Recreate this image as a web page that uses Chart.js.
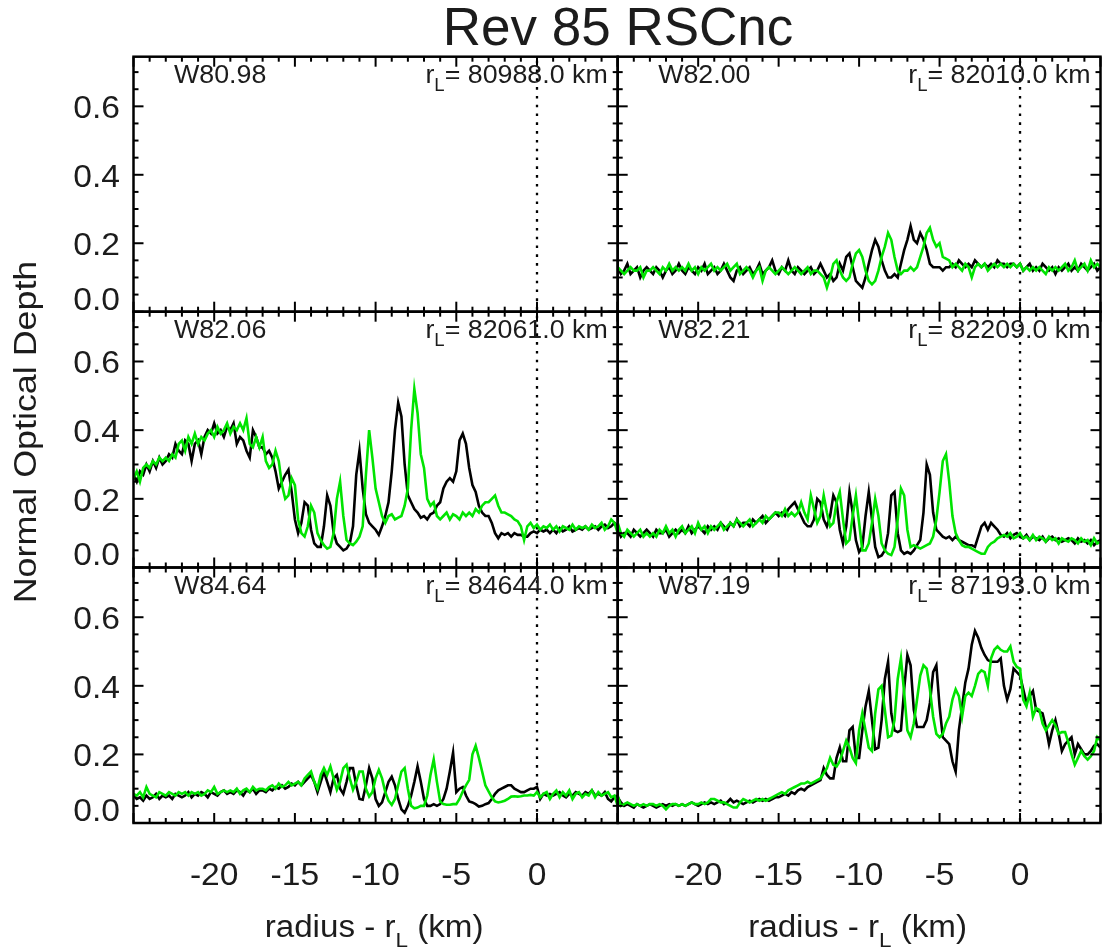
<!DOCTYPE html>
<html><head><meta charset="utf-8">
<script src="https://cdn.jsdelivr.net/npm/chart.js@4.4.1/dist/chart.umd.min.js"></script>
<style>
html,body{margin:0;padding:0;background:#fff;}
#wrap{position:relative;width:1102px;height:949px;overflow:hidden;background:#fff;}
#wrap canvas{position:absolute;left:0;top:0;}
</style></head><body><div id="wrap"></div>
<script>
// ---------- data ----------
const RADIUS_START = -25, RADIUS_STEP = 0.2;   // sampling grid of every series (km)
const X_MIN = -25, X_MAX = 5, Y_MIN = 0, Y_MAX = 0.745;
const X_TICK_LABELS = [-20, -15, -10, -5, 0];
const Y_TICK_LABELS = [0.0, 0.2, 0.4, 0.6];
const TITLE = 'Rev 85 RSCnc';
const PANEL_NAMES = ['W80.98', 'W82.00', 'W82.06', 'W82.21', 'W84.64', 'W87.19'];
const PANEL_RL = ['80988.0', '82010.0', '82061.0', '82209.0', '84644.0', '87193.0'];

const BLACK_W8200 = [
0.13,0.11,0.12,0.14,0.11,0.12,0.13,0.10,0.12,0.13,
0.12,0.11,0.13,0.12,0.10,0.12,0.13,0.11,0.12,0.14,
0.12,0.11,0.13,0.12,0.11,0.13,0.12,0.14,0.11,0.12,
0.13,0.11,0.12,0.14,0.12,0.10,0.09,0.12,0.13,0.11,
0.12,0.13,0.11,0.12,0.14,0.11,0.12,0.13,0.15,0.12,
0.11,0.13,0.12,0.15,0.12,0.11,0.13,0.12,0.11,0.12,
0.13,0.11,0.12,0.14,0.12,0.10,0.11,0.09,0.10,0.14,
0.12,0.16,0.17,0.13,0.09,0.08,0.07,0.10,0.14,0.18,
0.21,0.19,0.15,0.12,0.10,0.10,0.11,0.10,0.14,0.18,
0.21,0.25,0.21,0.20,0.23,0.21,0.18,0.14,0.13,0.13,
0.13,0.12,0.13,0.13,0.14,0.13,0.15,0.14,0.13,0.14,
0.13,0.15,0.14,0.13,0.14,0.13,0.14,0.13,0.15,0.14,
0.14,0.13,0.14,0.14,0.13,0.14,0.12,0.13,0.14,0.12,
0.13,0.12,0.14,0.13,0.12,0.13,0.11,0.13,0.12,0.13,
0.14,0.12,0.13,0.12,0.14,0.13,0.12,0.13,0.14,0.12,
0.13];
const GREEN_W8200 = [
0.13,0.12,0.11,0.12,0.13,0.12,0.12,0.13,0.10,0.12,
0.12,0.13,0.12,0.11,0.13,0.12,0.14,0.12,0.13,0.12,
0.13,0.12,0.14,0.12,0.13,0.11,0.13,0.12,0.13,0.14,
0.12,0.13,0.12,0.13,0.14,0.12,0.13,0.14,0.11,0.12,
0.13,0.12,0.10,0.12,0.13,0.09,0.12,0.13,0.12,0.11,
0.12,0.13,0.12,0.11,0.12,0.13,0.12,0.11,0.12,0.13,
0.11,0.12,0.12,0.11,0.10,0.07,0.10,0.14,0.15,0.12,
0.10,0.09,0.10,0.14,0.17,0.18,0.16,0.12,0.09,0.08,
0.09,0.12,0.16,0.19,0.23,0.21,0.16,0.12,0.11,0.12,
0.12,0.13,0.12,0.13,0.16,0.19,0.23,0.245,0.21,0.19,
0.20,0.16,0.155,0.15,0.13,0.14,0.13,0.12,0.14,0.13,
0.10,0.13,0.14,0.13,0.14,0.12,0.13,0.14,0.13,0.14,
0.13,0.14,0.13,0.14,0.13,0.14,0.12,0.13,0.12,0.13,
0.12,0.13,0.12,0.11,0.13,0.12,0.13,0.12,0.13,0.14,
0.12,0.13,0.15,0.12,0.13,0.14,0.12,0.15,0.13,0.14,
0.13];
const BLACK_W8206 = [
0.27,0.25,0.28,0.27,0.30,0.28,0.31,0.29,0.32,0.30,
0.31,0.33,0.32,0.36,0.34,0.33,0.37,0.36,0.31,0.36,
0.37,0.33,0.38,0.40,0.39,0.42,0.39,0.40,0.38,0.41,
0.40,0.42,0.36,0.38,0.37,0.34,0.32,0.40,0.38,0.35,
0.35,0.33,0.34,0.32,0.28,0.23,0.25,0.27,0.285,0.22,
0.14,0.10,0.13,0.19,0.18,0.11,0.07,0.06,0.06,0.12,
0.21,0.18,0.10,0.07,0.06,0.05,0.055,0.07,0.12,0.27,
0.34,0.23,0.155,0.13,0.12,0.11,0.095,0.12,0.15,0.19,
0.28,0.40,0.48,0.44,0.30,0.21,0.19,0.17,0.16,0.145,
0.15,0.14,0.155,0.16,0.18,0.19,0.23,0.25,0.26,0.25,
0.28,0.37,0.39,0.36,0.29,0.24,0.22,0.18,0.16,0.15,
0.15,0.13,0.10,0.085,0.10,0.095,0.10,0.09,0.10,0.095,
0.095,0.09,0.09,0.10,0.105,0.10,0.11,0.105,0.11,0.10,
0.11,0.10,0.115,0.105,0.11,0.12,0.105,0.11,0.115,0.11,
0.12,0.11,0.115,0.12,0.11,0.12,0.125,0.115,0.12,0.13,
0.12];
const GREEN_W8206 = [
0.26,0.28,0.25,0.29,0.30,0.29,0.31,0.30,0.32,0.31,
0.32,0.31,0.33,0.32,0.36,0.37,0.34,0.38,0.36,0.39,
0.36,0.38,0.37,0.39,0.40,0.38,0.41,0.39,0.40,0.42,
0.39,0.41,0.40,0.42,0.40,0.435,0.36,0.35,0.38,0.35,
0.38,0.31,0.29,0.30,0.34,0.31,0.24,0.20,0.21,0.26,
0.24,0.14,0.10,0.09,0.12,0.18,0.16,0.10,0.08,0.065,
0.055,0.06,0.10,0.20,0.25,0.15,0.08,0.07,0.065,0.075,
0.09,0.12,0.27,0.40,0.32,0.23,0.19,0.15,0.13,0.15,
0.155,0.14,0.145,0.15,0.18,0.23,0.40,0.52,0.45,0.33,
0.29,0.20,0.18,0.19,0.15,0.14,0.15,0.16,0.14,0.155,
0.15,0.14,0.16,0.15,0.16,0.15,0.17,0.16,0.18,0.19,
0.19,0.20,0.21,0.18,0.16,0.16,0.155,0.15,0.14,0.135,
0.12,0.08,0.12,0.13,0.115,0.125,0.11,0.12,0.115,0.125,
0.11,0.12,0.105,0.12,0.115,0.11,0.125,0.11,0.12,0.115,
0.12,0.11,0.125,0.115,0.12,0.13,0.11,0.12,0.14,0.13,
0.10];
const BLACK_W8221 = [
0.11,0.09,0.10,0.10,0.09,0.11,0.10,0.09,0.10,0.11,
0.10,0.09,0.11,0.10,0.10,0.11,0.09,0.10,0.11,0.10,
0.11,0.10,0.12,0.10,0.11,0.12,0.11,0.10,0.12,0.11,
0.12,0.11,0.13,0.12,0.11,0.13,0.12,0.14,0.12,0.13,
0.13,0.12,0.14,0.13,0.14,0.15,0.13,0.14,0.15,0.16,
0.15,0.16,0.15,0.17,0.18,0.19,0.17,0.15,0.13,0.12,
0.12,0.14,0.20,0.19,0.14,0.12,0.15,0.21,0.19,0.11,
0.07,0.12,0.22,0.16,0.08,0.045,0.06,0.15,0.22,0.14,
0.06,0.03,0.035,0.05,0.10,0.21,0.22,0.10,0.05,0.04,
0.045,0.04,0.05,0.065,0.08,0.16,0.30,0.27,0.16,0.11,
0.10,0.09,0.085,0.09,0.08,0.09,0.08,0.075,0.07,0.065,
0.065,0.06,0.09,0.12,0.13,0.11,0.13,0.12,0.11,0.095,
0.09,0.10,0.085,0.095,0.10,0.09,0.085,0.095,0.08,0.09,
0.085,0.08,0.09,0.075,0.085,0.09,0.08,0.085,0.075,0.08,
0.085,0.08,0.07,0.085,0.075,0.08,0.07,0.08,0.065,0.075,
0.08];
const GREEN_W8221 = [
0.13,0.10,0.09,0.11,0.10,0.09,0.10,0.11,0.09,0.10,
0.09,0.10,0.09,0.11,0.10,0.12,0.10,0.11,0.09,0.11,
0.12,0.10,0.11,0.12,0.10,0.13,0.11,0.12,0.10,0.12,
0.11,0.12,0.13,0.11,0.12,0.13,0.12,0.14,0.13,0.12,
0.13,0.14,0.12,0.13,0.14,0.13,0.15,0.14,0.15,0.16,
0.16,0.15,0.17,0.15,0.16,0.15,0.16,0.19,0.16,0.14,
0.21,0.17,0.13,0.15,0.21,0.16,0.12,0.13,0.19,0.22,
0.14,0.07,0.08,0.15,0.21,0.13,0.05,0.05,0.07,0.13,
0.20,0.15,0.07,0.05,0.04,0.036,0.06,0.14,0.23,0.21,
0.11,0.06,0.065,0.06,0.055,0.06,0.065,0.07,0.09,0.14,
0.22,0.31,0.33,0.25,0.15,0.10,0.08,0.065,0.06,0.06,
0.055,0.05,0.045,0.04,0.04,0.06,0.07,0.075,0.085,0.09,
0.095,0.09,0.10,0.085,0.09,0.10,0.085,0.09,0.08,0.095,
0.08,0.09,0.085,0.075,0.09,0.08,0.085,0.07,0.085,0.08,
0.075,0.085,0.08,0.07,0.085,0.075,0.08,0.065,0.085,0.07,
0.075];
const BLACK_W8464 = [
0.08,0.07,0.075,0.065,0.08,0.07,0.075,0.085,0.07,0.08,
0.075,0.08,0.07,0.085,0.08,0.075,0.08,0.09,0.075,0.085,
0.08,0.09,0.085,0.075,0.09,0.085,0.08,0.09,0.095,0.085,
0.09,0.085,0.095,0.09,0.08,0.095,0.09,0.10,0.085,0.095,
0.095,0.09,0.10,0.095,0.105,0.10,0.11,0.10,0.105,0.115,
0.11,0.12,0.11,0.12,0.13,0.14,0.12,0.09,0.12,0.15,
0.12,0.09,0.13,0.14,0.10,0.085,0.12,0.16,0.16,0.11,
0.07,0.068,0.11,0.16,0.13,0.07,0.05,0.06,0.09,0.12,
0.135,0.11,0.07,0.04,0.03,0.05,0.08,0.12,0.165,0.12,
0.07,0.05,0.05,0.055,0.05,0.055,0.07,0.10,0.15,0.205,
0.09,0.10,0.105,0.08,0.063,0.06,0.055,0.048,0.05,0.055,
0.058,0.07,0.085,0.095,0.10,0.105,0.11,0.11,0.10,0.095,
0.09,0.09,0.095,0.10,0.10,0.105,0.07,0.085,0.08,0.085,
0.08,0.085,0.09,0.08,0.075,0.085,0.08,0.09,0.085,0.08,
0.09,0.085,0.095,0.08,0.085,0.08,0.09,0.07,0.063,0.075,
0.08];
const GREEN_W8464 = [
0.085,0.08,0.09,0.075,0.105,0.085,0.08,0.075,0.09,0.085,
0.08,0.09,0.085,0.08,0.09,0.085,0.09,0.08,0.09,0.085,
0.09,0.08,0.085,0.095,0.09,0.105,0.085,0.09,0.095,0.09,
0.095,0.09,0.10,0.085,0.095,0.10,0.09,0.105,0.095,0.10,
0.10,0.095,0.105,0.11,0.10,0.115,0.105,0.11,0.12,0.11,
0.115,0.12,0.11,0.13,0.14,0.15,0.12,0.10,0.14,0.16,
0.14,0.165,0.13,0.097,0.12,0.16,0.17,0.13,0.097,0.12,
0.15,0.15,0.10,0.077,0.09,0.13,0.155,0.13,0.09,0.065,
0.053,0.07,0.11,0.15,0.16,0.10,0.05,0.043,0.045,0.05,
0.05,0.08,0.14,0.185,0.12,0.063,0.055,0.053,0.053,0.055,
0.055,0.07,0.092,0.11,0.126,0.20,0.225,0.19,0.15,0.11,
0.092,0.075,0.063,0.06,0.062,0.065,0.07,0.077,0.078,0.077,
0.078,0.08,0.08,0.082,0.08,0.09,0.075,0.085,0.09,0.07,
0.085,0.095,0.075,0.09,0.08,0.095,0.07,0.085,0.09,0.075,
0.085,0.08,0.095,0.075,0.09,0.08,0.085,0.09,0.075,0.08,
0.05];
const BLACK_W8719 = [
0.075,0.06,0.05,0.055,0.05,0.045,0.055,0.05,0.045,0.05,
0.055,0.05,0.045,0.05,0.055,0.05,0.055,0.05,0.055,0.05,
0.055,0.05,0.055,0.06,0.055,0.05,0.055,0.06,0.055,0.06,
0.055,0.06,0.065,0.055,0.06,0.07,0.06,0.065,0.06,0.055,
0.06,0.065,0.06,0.065,0.07,0.065,0.07,0.065,0.07,0.075,
0.075,0.08,0.085,0.08,0.09,0.085,0.095,0.10,0.095,0.105,
0.11,0.115,0.12,0.125,0.16,0.14,0.13,0.13,0.19,0.22,
0.18,0.18,0.27,0.28,0.19,0.19,0.27,0.34,0.385,0.30,
0.215,0.22,0.30,0.42,0.47,0.32,0.27,0.265,0.27,0.39,
0.49,0.46,0.33,0.28,0.28,0.28,0.30,0.35,0.44,0.46,
0.34,0.25,0.24,0.23,0.18,0.15,0.27,0.34,0.41,0.45,
0.52,0.56,0.54,0.51,0.49,0.475,0.47,0.47,0.47,0.48,
0.40,0.36,0.39,0.45,0.44,0.43,0.39,0.35,0.37,0.385,
0.33,0.325,0.32,0.28,0.23,0.27,0.30,0.26,0.21,0.23,
0.24,0.25,0.20,0.23,0.215,0.20,0.20,0.21,0.225,0.23,
0.22];
const GREEN_W8719 = [
0.08,0.05,0.055,0.06,0.055,0.05,0.055,0.05,0.055,0.05,
0.055,0.055,0.05,0.055,0.05,0.04,0.05,0.055,0.055,0.05,
0.055,0.05,0.055,0.06,0.055,0.055,0.06,0.055,0.06,0.07,
0.07,0.065,0.06,0.06,0.055,0.05,0.045,0.045,0.06,0.07,
0.065,0.06,0.065,0.07,0.065,0.07,0.065,0.07,0.075,0.08,
0.085,0.09,0.085,0.095,0.10,0.105,0.11,0.115,0.115,0.12,
0.115,0.12,0.125,0.13,0.145,0.16,0.19,0.17,0.165,0.18,
0.21,0.24,0.22,0.19,0.175,0.27,0.32,0.27,0.22,0.21,
0.32,0.39,0.40,0.33,0.25,0.255,0.30,0.42,0.48,0.38,
0.27,0.25,0.29,0.36,0.43,0.46,0.45,0.39,0.31,0.26,
0.25,0.26,0.29,0.31,0.36,0.39,0.37,0.31,0.37,0.38,
0.37,0.40,0.435,0.445,0.44,0.40,0.48,0.505,0.515,0.505,
0.50,0.50,0.515,0.47,0.455,0.45,0.36,0.34,0.38,0.31,
0.335,0.33,0.29,0.27,0.285,0.30,0.285,0.26,0.265,0.265,
0.235,0.20,0.17,0.19,0.21,0.195,0.185,0.195,0.21,0.25,
0.24];

// panel order: row-major, [black, green]
const PANEL_SERIES = [
  [null, null],
  [BLACK_W8200, GREEN_W8200],
  [BLACK_W8206, GREEN_W8206],
  [BLACK_W8221, GREEN_W8221],
  [BLACK_W8464, GREEN_W8464],
  [BLACK_W8719, GREEN_W8719]
];

// ---------- layout & style ----------
const W = 1102, H = 949;
const COL_LEFT = [133.5, 617.7], COL_RIGHT = [617.7, 1100.5];
const ROW_TOP = [56.7, 311.7, 567.5], ROW_BOTTOM = [311.7, 567.5, 823];
const FONT = '"Liberation Sans", Arial, Helvetica, sans-serif';
const TXT = '#1c1c1c';
const GREEN = '#00e400';
const LINE_W = 2.6;

function textW(ctx, s, size) { ctx.font = size + 'px ' + FONT; return ctx.measureText(s).width; }
// parts: [{t, size, dy}] drawn sequentially with horizontal stretch sx
function rich(ctx, parts, x, y, align, sx, baseline) {
  let total = 0;
  parts.forEach(p => total += textW(ctx, p.t, p.size) * sx);
  let x0 = align === 'center' ? x - total / 2 : align === 'right' ? x - total : x;
  ctx.save();
  ctx.fillStyle = TXT;
  ctx.textAlign = 'left';
  ctx.textBaseline = baseline || 'alphabetic';
  parts.forEach(p => {
    ctx.font = p.size + 'px ' + FONT;
    const w = ctx.measureText(p.t).width * sx;
    ctx.save();
    ctx.translate(x0, y + (p.dy || 0));
    ctx.scale(sx, 1);
    ctx.fillText(p.t, 0, 0);
    ctx.restore();
    x0 += w;
  });
  ctx.restore();
}
function seg(ctx, x1, y1, x2, y2) { ctx.beginPath(); ctx.moveTo(x1, y1); ctx.lineTo(x2, y2); ctx.stroke(); }

const deco = {
  id: 'deco',
  beforeDatasetsDraw(chart, args, opts) {
    const { ctx, chartArea: a, scales: { x } } = chart;
    const px = x.getPixelForValue(0);
    ctx.save();
    ctx.strokeStyle = '#000';
    ctx.lineWidth = 2.3;
    ctx.setLineDash([2.6, 6.2]);
    seg(ctx, px, a.top + 4, px, a.bottom);
    ctx.restore();
  },
  afterDatasetsDraw(chart, args, opts) {
    const { ctx, chartArea: a, scales: { x, y } } = chart;
    const row = opts.row, col = opts.col, idx = opts.idx;
    ctx.save();
    ctx.strokeStyle = '#000';
    ctx.setLineDash([]);
    // inward ticks
    ctx.lineWidth = 2;
    for (let v = X_MIN; v <= X_MAX; v += 1) {
      const px = x.getPixelForValue(v);
      const len = (v % 5 === 0) ? 10 : 5;
      seg(ctx, px, a.bottom, px, a.bottom - len);
      seg(ctx, px, a.top, px, a.top + len);
    }
    for (let k = 0; k * 0.05 <= Y_MAX + 1e-9; k++) {
      const py = y.getPixelForValue(k * 0.05);
      const len = (k % 4 === 0) ? 10 : 5;
      seg(ctx, a.left, py, a.left + len, py);
      seg(ctx, a.right, py, a.right - len, py);
    }
    // frame
    ctx.lineWidth = 2.5;
    ctx.strokeRect(a.left, a.top, a.right - a.left, a.bottom - a.top);
    ctx.restore();

    // panel labels
    rich(ctx, [{ t: PANEL_NAMES[idx], size: 26 }], a.left + 40.5, a.top + 26, 'left', 1.03);
    rich(ctx, [
      { t: 'r', size: 26 },
      { t: 'L', size: 18, dy: 8 },
      { t: '= ' + PANEL_RL[idx] + ' km', size: 26 }
    ], a.right - 10, a.top + 26, 'right', 1.03);

    // y tick labels (left column)
    if (col === 0) {
      Y_TICK_LABELS.forEach(v => {
        const py = y.getPixelForValue(v);
        const off = v === 0 ? -11 : 3;
        rich(ctx, [{ t: v.toFixed(1), size: 32 }], a.left - 13.5, py + off, 'right', 1.05, 'middle');
      });
    }
    // x tick labels and axis title (bottom row)
    if (row === 2) {
      X_TICK_LABELS.forEach(v => {
        rich(ctx, [{ t: String(v), size: 32 }], x.getPixelForValue(v), a.bottom + 62, 'center', 1.05);
      });
      rich(ctx, [
        { t: 'radius - r', size: 31 },
        { t: 'L', size: 21, dy: 10 },
        { t: ' (km)', size: 31 }
      ], (a.left + a.right) / 2 - 1.5, 936.7, 'center', 1.07);
    }
    // global texts
    if (idx === 0) {
      rich(ctx, [{ t: TITLE, size: 53 }], 618, 45, 'center', 1.0);
      ctx.save();
      ctx.translate(36, 432);
      ctx.rotate(-Math.PI / 2);
      rich(ctx, [{ t: 'Normal Optical Depth', size: 32 }], 0, 0, 'center', 1.12);
      ctx.restore();
    }
  }
};

function points(arr) {
  return arr.map((v, i) => ({ x: RADIUS_START + RADIUS_STEP * i, y: v }));
}

const wrap = document.getElementById('wrap');
PANEL_SERIES.forEach((pair, idx) => {
  const row = Math.floor(idx / 2), col = idx % 2;
  const cv = document.createElement('canvas');
  cv.width = W; cv.height = H;
  cv.style.width = W + 'px'; cv.style.height = H + 'px';
  wrap.appendChild(cv);
  const datasets = [];
  if (pair[1]) datasets.push({ label: 'green', data: points(pair[1]), borderColor: GREEN, borderWidth: LINE_W, pointRadius: 0, tension: 0, fill: false, order: 0 });
  if (pair[0]) datasets.push({ label: 'black', data: points(pair[0]), borderColor: '#000', borderWidth: LINE_W, pointRadius: 0, tension: 0, fill: false, order: 1 });
  new Chart(cv, {
    type: 'line',
    data: { datasets },
    options: {
      responsive: false, animation: false, devicePixelRatio: 1, events: [],
      layout: { padding: { left: COL_LEFT[col], right: W - COL_RIGHT[col], top: ROW_TOP[row], bottom: H - ROW_BOTTOM[row] } },
      plugins: { legend: { display: false }, tooltip: { enabled: false }, title: { display: false },
        deco: { row, col, idx } },
      scales: {
        x: { type: 'linear', min: X_MIN, max: X_MAX, display: false },
        y: { type: 'linear', min: Y_MIN, max: Y_MAX, display: false }
      }
    },
    plugins: [deco]
  });
});
</script></body></html>
